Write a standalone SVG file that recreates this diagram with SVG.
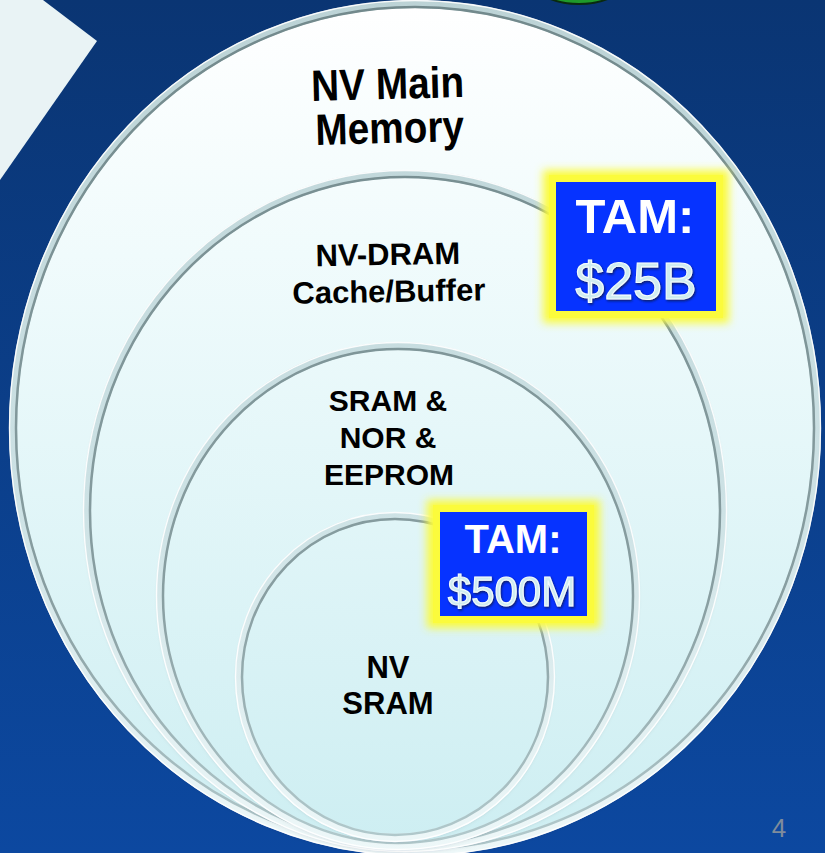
<svg xmlns="http://www.w3.org/2000/svg" width="825" height="853" viewBox="0 0 825 853">
  <defs>
    <linearGradient id="gBg" x1="0" y1="0" x2="0" y2="853" gradientUnits="userSpaceOnUse">
      <stop offset="0" stop-color="#0a3573"/>
      <stop offset="1" stop-color="#0c48a0"/>
    </linearGradient>
    <linearGradient id="gFill" x1="0" y1="0" x2="0" y2="853" gradientUnits="userSpaceOnUse">
      <stop offset="0" stop-color="#ffffff"/>
      <stop offset="0.3" stop-color="#f0fbfc"/>
      <stop offset="1" stop-color="#cdeef2"/>
    </linearGradient>
    <linearGradient id="gRimA" x1="0" y1="0" x2="0" y2="853" gradientUnits="userSpaceOnUse">
      <stop offset="0" stop-color="#bcd3d6"/>
      <stop offset="0.6" stop-color="#cde2e5"/>
      <stop offset="1" stop-color="#eef8f9"/>
    </linearGradient>
    <linearGradient id="gRimB" x1="0" y1="0" x2="0" y2="853" gradientUnits="userSpaceOnUse">
      <stop offset="0" stop-color="#72898c"/>
      <stop offset="0.7" stop-color="#889ea1"/>
      <stop offset="1" stop-color="#b3cbce"/>
    </linearGradient>
    <filter id="sh" x="-10%" y="-10%" width="120%" height="120%">
      <feDropShadow dx="0" dy="2" stdDeviation="2.5" flood-color="#1c2c3c" flood-opacity="0.35"/>
    </filter>
    <filter id="glow" x="-20%" y="-20%" width="140%" height="140%">
      <feGaussianBlur stdDeviation="4"/>
    </filter>
    <filter id="tsh" x="-10%" y="-10%" width="120%" height="130%">
      <feDropShadow dx="1" dy="1.5" stdDeviation="0.8" flood-color="#0a1a40" flood-opacity="0.8"/>
    </filter>
  </defs>
  <style>
    .fill { fill: url(#gFill); filter: url(#sh); }
    .rimA { fill: none; stroke: url(#gRimA); stroke-width: 8; }
    .rimB { fill: none; stroke: url(#gRimB); stroke-width: 2.5; }
    .rimC { fill: none; stroke: #ffffff; stroke-width: 1.4; opacity: 0.9; }
    .lbl { font-family: "Liberation Sans", Arial, sans-serif; font-weight: bold; fill: #000000; text-anchor: middle; }
    .tam { font-family: "Liberation Sans", Arial, sans-serif; font-weight: bold; fill: #ffffff; text-anchor: middle; }
    .val { font-family: "Liberation Sans", Arial, sans-serif; font-weight: normal; fill: #cfecf1; stroke: #f4fcfd; stroke-width: 1.1; text-anchor: middle; filter: url(#tsh); }
    .blue { fill: #0633ff; }
    .yel { fill: #fbfb3c; }
  </style>

  <rect x="0" y="0" width="825" height="853" fill="url(#gBg)"/>
  <polygon points="0,0 43,0 97,41 0,180" fill="#e9f3f5"/>
  <ellipse cx="579" cy="-16" rx="43" ry="20" fill="#1f9a2a" stroke="#0a2a10" stroke-width="2"/>

  <g id="node-main-memory">
    <ellipse class="fill" cx="415" cy="428" rx="402" ry="424"/>
    <ellipse class="rimA" cx="415" cy="428" rx="402" ry="424"/>
    <ellipse class="rimB" cx="415" cy="428" rx="399" ry="421"/>
    <ellipse class="rimC" cx="415" cy="428" rx="405.5" ry="427.5"/>
    <text class="lbl" font-size="40" transform="translate(388,99) rotate(-1.5) scale(0.97,1.1)">NV Main</text>
    <text class="lbl" font-size="40" transform="translate(390,143) rotate(-1.5) scale(0.97,1.1)">Memory</text>
  </g>

  <g id="node-nvdram">
    <ellipse class="fill" cx="405" cy="511" rx="318" ry="337"/>
    <ellipse class="rimA" cx="405" cy="511" rx="318" ry="337"/>
    <ellipse class="rimB" cx="405" cy="511" rx="315" ry="334"/>
    <ellipse class="rimC" cx="405" cy="511" rx="321.5" ry="340.5"/>
    <text class="lbl" font-size="31" transform="translate(388,265) rotate(-1)">NV-DRAM</text>
    <text class="lbl" font-size="31" transform="translate(389,302) rotate(-1)">Cache/Buffer</text>
  </g>

  <g id="node-sram-nor-eeprom">
    <ellipse class="fill" cx="398" cy="596" rx="238" ry="250"/>
    <ellipse class="rimA" cx="398" cy="596" rx="238" ry="250"/>
    <ellipse class="rimB" cx="398" cy="596" rx="235" ry="247"/>
    <ellipse class="rimC" cx="398" cy="596" rx="241.5" ry="253.5"/>
    <text class="lbl" font-size="30" x="388" y="411">SRAM &amp;</text>
    <text class="lbl" font-size="30" x="388" y="448">NOR &amp;</text>
    <text class="lbl" font-size="30" x="389" y="485">EEPROM</text>
  </g>

  <g id="node-nvsram">
    <ellipse class="fill" cx="395" cy="677" rx="156" ry="161"/>
    <ellipse class="rimA" cx="395" cy="677" rx="156" ry="161"/>
    <ellipse class="rimB" cx="395" cy="677" rx="153" ry="158"/>
    <ellipse class="rimC" cx="395" cy="677" rx="159.5" ry="164.5"/>
    <text class="lbl" font-size="31" x="388" y="678">NV</text>
    <text class="lbl" font-size="31" x="388" y="714">SRAM</text>
  </g>

  <g id="connectors"/>

  <g id="node-tam-25b">
    <rect class="yel" x="543" y="170" width="186" height="153" filter="url(#glow)"/>
    <rect class="yel" x="549" y="175" width="174" height="143"/>
    <rect class="blue" x="556" y="182" width="160" height="129"/>
    <text class="tam" font-size="49" x="635" y="233">TAM:</text>
    <text class="val" font-size="52" x="636" y="299">$25B</text>
  </g>

  <g id="node-tam-500m">
    <rect class="yel" x="427" y="500" width="173" height="128" filter="url(#glow)"/>
    <rect class="yel" x="433" y="505" width="161" height="118"/>
    <rect class="blue" x="440" y="512" width="147" height="104"/>
    <text class="tam" font-size="40" x="513" y="553">TAM:</text>
    <text class="val" font-size="42" x="512" y="606">$500M</text>
  </g>

  <text x="779" y="837" font-family="Liberation Sans, Arial, sans-serif" font-size="26" fill="#7f8c9c" text-anchor="middle">4</text>
</svg>
